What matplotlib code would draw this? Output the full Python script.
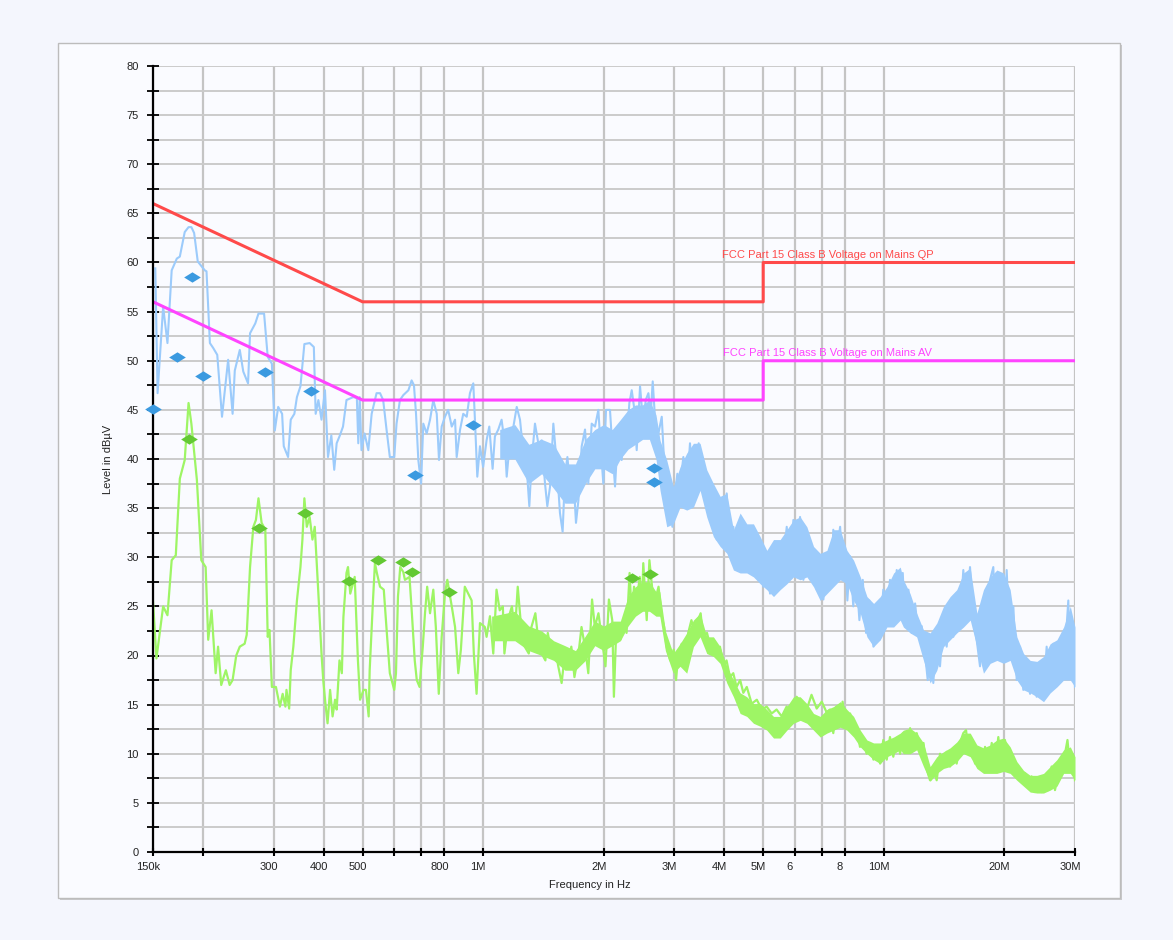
import numpy as np
import matplotlib
matplotlib.use('Agg')
import matplotlib.pyplot as plt
import matplotlib.transforms as mtransforms
from matplotlib.patches import Rectangle

plt.rcParams['font.family'] = ['Liberation Sans', 'DejaVu Sans']

# FCC Part 15 Class B limits (Hz, dBuV)
limit_f = [150e3, 500e3, 5e6, 5e6, 30e6]
qp_limit = [66, 56, 56, 60, 60]
av_limit = [56, 46, 46, 50, 50]

# peak (blue) scan, frequency in kHz
peak_f = [152, 154, 159, 163, 167, 172, 175, 180, 184, 187, 190, 194, 202, 204, 208, 212, 217, 223,
          231, 237, 240, 247, 252, 259, 262, 270, 275, 284, 290, 297, 302, 308, 315, 318, 326, 331,
          338, 343, 350, 358, 369, 378, 382, 388, 395, 403, 410, 418, 425, 431, 439, 447, 456, 474,
          484, 488, 492, 497, 506, 517, 527, 542, 553, 563, 574, 585, 600, 608, 620, 632, 651, 663,
          672, 680, 689, 700, 709, 723, 737, 751, 766, 776, 788, 803, 818, 835, 851, 859, 876, 892,
          910, 927, 945, 954, 967, 982, 1000, 1020, 1036, 1056, 1070, 1091, 1112, 1134, 1145, 1167,
          1190, 1213, 1236, 1260, 1284, 1304, 1322, 1347, 1373, 1400, 1427, 1446, 1469, 1497, 1526,
          1555, 1579, 1601, 1623, 1648, 1680, 1705, 1729, 1762, 1796, 1830, 1866, 1902, 1939, 1957,
          1995, 2026, 2073, 2113, 2134, 2175, 2217, 2247, 2282, 2317, 2349, 2380, 2417, 2464, 2512,
          2545, 2585, 2620, 2650, 2686, 2738, 2791, 2828, 2861, 2883, 2927, 2967, 3012, 3053, 3100,
          3160, 3221, 3283, 3347, 3412, 3451, 3511, 3579, 3648, 3698, 3755, 3828, 3902, 3978, 4054,
          4133, 4212, 4294, 4377, 4461, 4548, 4636, 4725, 4817, 4910, 5004, 5102, 5200, 5301, 5403,
          5508, 5616, 5724, 5834, 5947, 6062, 6179, 6299, 6421, 6544, 6671, 6800, 6931, 7066, 7202,
          7341, 7410, 7480, 7600, 7700, 7780, 7900, 8000, 8110, 8240, 8390, 8520, 8690, 8860, 9030,
          9200, 9420, 9600, 9750, 9970, 10170, 10360, 10600, 10770, 10980, 11150, 11300, 11520,
          11740, 11970, 12200, 12430, 12670, 12870, 13040, 13290, 13550, 13810, 14080, 14350, 14630,
          14910, 15200, 15490, 15790, 16100, 16410, 16730, 17050, 17380, 17720, 18060, 18410, 18760,
          19120, 19500, 19870, 20260, 20650, 21050, 21460, 21880, 22290, 22730, 23170, 23610, 24070,
          24540, 25010, 25490, 25980, 26490, 27000, 27520, 28050, 28590, 28870, 29150, 29600, 30000]
peak_db = [59.4, 46.7, 55.5, 51.8, 59.2, 60.4, 60.6, 63.1, 63.6, 63.6, 63.0, 60.1, 59.2, 59.1, 51.8,
           51.3, 50.6, 44.3, 50.1, 44.6, 49.0, 51.1, 48.9, 47.7, 52.8, 53.8, 54.8, 54.8, 50.4, 49.7,
           42.9, 45.3, 44.6, 41.3, 40.2, 44.0, 44.6, 46.3, 47.4, 51.7, 51.8, 51.4, 44.6, 46.0, 44.0,
           47.0, 40.2, 42.4, 38.9, 41.6, 42.4, 43.3, 46.0, 46.3, 46.2, 41.6, 46.3, 40.9, 42.6, 40.9,
           44.6, 46.7, 46.7, 46.0, 43.0, 40.2, 40.2, 43.6, 46.0, 46.5, 47.0, 48.0, 47.5, 44.6, 39.9,
           37.5, 43.6, 42.6, 44.0, 46.0, 44.6, 39.9, 43.3, 44.3, 45.0, 43.3, 44.0, 40.2, 43.0, 44.6,
           44.3, 46.7, 47.7, 44.0, 38.2, 41.3, 39.2, 41.9, 43.3, 39.0, 42.3, 43.0, 44.0, 41.3, 38.2,
           41.9, 43.3, 45.3, 44.0, 40.6, 39.2, 35.2, 39.9, 43.6, 41.6, 41.9, 37.5, 35.2, 37.2, 43.6,
           39.6, 34.5, 32.6, 38.5, 40.2, 37.2, 38.2, 33.5, 35.8, 41.3, 43.0, 37.5, 43.6, 43.3, 45.0,
           42.3, 37.5, 45.0, 45.0, 39.6, 37.2, 43.3, 39.9, 44.0, 41.6, 45.7, 47.0, 45.3, 40.9, 47.4,
           43.3, 46.0, 46.7, 44.6, 47.9, 44.0, 42.6, 44.3, 39.9, 37.2, 34.1, 35.8, 33.1, 36.5, 38.5,
           37.2, 40.2, 36.5, 41.6, 36.5, 39.9, 41.6, 38.9, 37.5, 35.8, 34.1, 36.8, 31.8, 34.5, 32.4,
           36.5, 30.4, 33.1, 29.0, 31.8, 29.7, 33.1, 29.0, 32.1, 28.0, 31.1, 27.0, 30.4, 26.3, 29.7,
           28.4, 31.1, 29.7, 33.1, 28.4, 33.8, 29.7, 34.1, 27.7, 32.4, 29.0, 30.4, 26.7, 29.7, 25.7,
           30.1, 28.0, 27.7, 32.8, 28.4, 31.8, 33.1, 28.0, 30.7, 25.6, 30.1, 25.0, 28.7, 23.6, 27.7,
           22.3, 25.6, 20.9, 25.0, 21.6, 26.7, 23.0, 27.7, 23.6, 28.7, 24.3, 28.4, 23.0, 26.7, 22.3,
           25.3, 21.9, 23.0, 20.2, 17.5, 21.6, 17.2, 22.6, 18.9, 23.6, 20.9, 25.0, 21.9, 26.3, 23.3,
           28.7, 24.3, 29.0, 23.6, 21.6, 18.9, 24.3, 19.5, 27.7, 29.0, 20.2, 28.4, 19.5, 28.7, 20.2,
           25.0, 17.5, 20.9, 16.5, 19.5, 16.1, 19.2, 15.8, 18.9, 15.5, 20.9, 16.8, 21.2, 17.5, 21.6,
           17.8, 22.9, 25.6, 18.2, 22.9, 16.8]

# dense part of the peak scan, read as upper / lower envelope (MHz)
peak_band_f = [1.10, 1.20, 1.30, 1.40, 1.50, 1.60, 1.70, 1.80, 1.90, 2.00, 2.10, 2.20, 2.30, 2.40,
               2.50, 2.60, 2.70, 2.764, 2.872, 2.984, 3.101, 3.222, 3.348, 3.479, 3.615, 3.756,
               3.903, 4.056, 4.214, 4.379, 4.550, 4.728, 4.913, 5.105, 5.305, 5.512, 5.728, 5.951,
               6.184, 6.426, 6.677, 6.938, 7.210, 7.491, 7.784, 8.089, 8.405, 8.734, 9.075, 9.430,
               9.799, 10.18, 10.58, 10.99, 11.19, 11.63, 12.08, 12.56, 13.05, 13.56, 14.09, 14.64,
               15.21, 15.81, 16.43, 17.07, 17.73, 18.43, 19.15, 19.90, 20.67, 21.48, 22.32, 23.19,
               24.10, 25.04, 26.02, 27.04, 28.10, 29.20, 30.0]
peak_band_hi = [43.0, 43.5, 41.5, 42.0, 41.5, 39.5, 39.5, 42.0, 43.0, 43.5, 43.0, 44.0, 45.0, 45.5,
                45.5, 46.0, 44.5, 41.9, 39.9, 37.2, 39.2, 40.6, 41.6, 41.6, 38.9, 37.5, 36.2, 36.5,
                32.8, 34.5, 33.4, 33.4, 32.1, 30.7, 31.8, 31.8, 32.8, 33.8, 34.1, 33.1, 31.1, 30.4,
                30.7, 32.8, 32.8, 30.7, 29.7, 28.0, 26.0, 25.3, 26.0, 27.0, 28.4, 29.0, 27.7, 26.3,
                24.3, 22.6, 22.3, 23.3, 25.0, 26.0, 26.7, 28.4, 28.9, 24.3, 26.7, 28.0, 28.7, 28.4,
                26.7, 21.9, 20.2, 19.5, 19.4, 19.9, 21.2, 21.6, 22.9, 25.0, 22.9]
peak_band_lo = [40.0, 40.0, 37.5, 38.5, 37.0, 35.5, 35.5, 37.5, 39.0, 39.0, 38.5, 40.0, 41.0, 41.5,
                42.0, 42.0, 40.0, 36.8, 33.1, 33.4, 35.1, 34.8, 35.1, 36.8, 34.1, 32.1, 31.1, 30.4,
                28.7, 28.4, 28.4, 28.0, 27.3, 26.7, 26.0, 26.7, 27.3, 28.0, 27.7, 28.0, 27.0, 25.6,
                26.3, 27.0, 27.7, 27.3, 25.6, 24.3, 21.9, 20.9, 21.6, 22.9, 22.9, 23.6, 22.9, 22.3,
                21.9, 19.5, 17.2, 18.5, 20.9, 21.6, 22.3, 22.9, 23.6, 20.9, 18.2, 19.2, 19.5, 19.2,
                19.5, 17.5, 16.5, 16.2, 15.8, 15.3, 16.2, 16.8, 17.5, 17.5, 16.8]

# average (green) scan, frequency in kHz
avg_f = [150, 153, 159, 163, 167, 171, 175, 180, 184, 187, 193, 198, 203, 206, 210, 215, 218, 222,
         228, 233, 237, 242, 247, 254, 257, 262, 267, 271, 275, 280, 286, 290, 293, 297, 304, 311,
         316, 321, 323, 328, 331, 336, 343, 350, 354, 358, 363, 369, 375, 380, 388, 395, 399, 404,
         409, 415, 421, 427, 431, 438, 444, 448, 456, 460, 466, 478, 487, 493, 503, 510, 518, 521,
         531, 537, 543, 553, 565, 575, 585, 600, 606, 613, 621, 632, 638, 655, 664, 675, 683, 694,
         707, 716, 725, 737, 751, 762, 775, 788, 803, 814, 835, 851, 867, 880, 900, 918, 936, 948,
         963, 982, 1010, 1020, 1040, 1060, 1080, 1100, 1120, 1130, 1160, 1180, 1200, 1220, 1250,
         1270, 1300, 1320, 1350, 1370, 1400, 1430, 1450, 1480, 1510, 1540, 1570, 1600, 1630, 1660,
         1690, 1730, 1760, 1800, 1830, 1870, 1900, 1940, 1980, 2020, 2060, 2100, 2120, 2150, 2200,
         2240, 2280, 2320, 2350, 2380, 2420, 2460, 2490, 2510, 2560, 2600, 2650, 2690, 2740, 2790,
         2830, 2870, 2930, 2990, 3030, 3070, 3130, 3190, 3250, 3310, 3370, 3440, 3490, 3540, 3620,
         3690, 3760, 3830, 3900, 3980, 4050, 4130, 4210, 4290, 4380, 4460, 4550, 4680, 4820, 4960,
         5100, 5250, 5400, 5560, 5720, 5890, 6060, 6240, 6420, 6600, 6800, 7000, 7200, 7340, 7480,
         7620, 7780, 7890, 8050, 8240, 8390, 8550, 8720, 8890, 9060, 9240, 9420, 9600, 9790, 9970,
         10170, 10360, 10560, 10770, 10980, 11190, 11410, 11630, 11850, 12080, 12320, 12560, 12800,
         13040, 13290, 13550, 13810, 14080, 14350, 14630, 14910, 15200, 15490, 15790, 16040, 16250,
         16570, 16890, 17220, 17550, 17890, 18240, 18590, 18940, 19310, 19680, 20060, 20450, 20840,
         21240, 21650, 22070, 22500, 22930, 23370, 23830, 24290, 24760, 25240, 25730, 26230, 26740,
         27260, 27780, 28320, 28730, 29150, 29600, 30000]
avg_db = [25.5, 19.7, 25.0, 24.1, 29.7, 30.2, 38.0, 39.9, 45.7, 43.6, 37.9, 29.7, 29.0, 21.6, 24.6,
          18.2, 20.9, 17.0, 18.5, 17.0, 17.5, 20.0, 20.9, 21.2, 22.1, 29.0, 33.1, 33.8, 36.0, 33.5,
          32.8, 21.9, 22.6, 16.8, 16.8, 14.8, 16.1, 14.8, 16.5, 14.6, 18.5, 20.9, 25.6, 29.0, 31.8,
          36.0, 33.1, 34.1, 31.8, 33.1, 26.3, 20.2, 17.5, 15.1, 13.1, 16.5, 13.8, 15.5, 14.5, 19.5,
          18.2, 23.9, 28.4, 29.0, 26.3, 28.0, 19.5, 15.5, 16.5, 16.5, 13.8, 18.5, 25.6, 29.4, 28.4,
          27.0, 26.7, 22.3, 18.2, 16.5, 18.2, 26.0, 29.0, 28.5, 27.7, 28.0, 24.3, 19.5, 17.5, 16.8,
          20.9, 24.3, 27.0, 24.3, 26.7, 22.9, 16.1, 21.9, 26.3, 27.7, 25.0, 22.9, 18.2, 20.6, 27.0,
          26.3, 25.6, 20.2, 16.1, 23.3, 22.9, 21.9, 24.0, 20.2, 26.7, 24.6, 25.0, 20.2, 24.0, 25.0,
          22.3, 27.0, 21.9, 20.9, 20.2, 22.9, 24.3, 21.9, 20.2, 19.5, 22.3, 20.2, 20.9, 18.9, 17.2,
          20.2, 19.2, 20.9, 17.8, 20.2, 22.9, 20.6, 18.2, 25.7, 22.9, 24.3, 21.6, 18.9, 25.7, 23.6,
          15.8, 22.9, 21.6, 23.6, 22.3, 28.4, 24.0, 27.0, 25.7, 28.0, 25.0, 29.4, 23.6, 29.7, 26.3,
          25.7, 27.0, 24.0, 22.9, 20.9, 19.5, 20.6, 17.5, 20.2, 21.2, 19.5, 22.3, 23.6, 22.3, 23.6,
          24.3, 21.9, 22.3, 20.9, 21.6, 20.2, 20.9, 18.9, 19.5, 17.8, 18.2, 16.8, 17.5, 16.2, 16.8,
          15.1, 15.5, 14.5, 14.8, 14.1, 14.5, 13.8, 14.8, 14.1, 15.8, 15.1, 14.5, 16.0, 14.6, 15.3,
          14.2, 14.5, 12.1, 14.8, 12.8, 15.3, 13.1, 14.1, 12.1, 12.8, 10.7, 11.4, 10.0, 11.1, 9.4,
          10.7, 9.0, 11.4, 9.4, 11.7, 9.7, 11.6, 10.0, 12.1, 10.2, 12.6, 11.1, 12.1, 10.7, 11.1, 8.4,
          7.3, 8.4, 7.3, 10.0, 8.7, 10.2, 8.7, 10.4, 9.0, 11.1, 12.1, 12.4, 10.4, 11.1, 9.0, 10.4,
          8.4, 10.7, 8.4, 11.1, 8.7, 11.7, 8.4, 11.4, 8.7, 9.7, 8.0, 8.7, 7.3, 8.0, 6.6, 7.7, 6.1,
          7.3, 6.1, 7.3, 6.3, 8.7, 6.3, 8.0, 9.0, 10.0, 11.4, 8.7, 9.7, 7.3]

# dense part of the average scan, upper / lower envelope (MHz)
avg_band_f = [1.05, 1.20, 1.30, 1.40, 1.50, 1.60, 1.70, 1.80, 1.90, 2.00, 2.10, 2.20, 2.30, 2.40,
              2.50, 2.60, 2.70, 2.76, 2.85, 2.98, 3.101, 3.222, 3.348, 3.479, 3.615, 3.756, 3.903,
              4.056, 4.214, 4.379, 4.550, 4.728, 4.913, 5.105, 5.305, 5.512, 5.728, 5.951, 6.184,
              6.426, 6.677, 6.938, 7.210, 7.491, 7.784, 8.089, 8.405, 8.734, 9.075, 9.430, 9.799,
              10.18, 10.58, 10.99, 11.19, 11.63, 12.08, 12.56, 13.05, 13.56, 14.09, 14.64, 15.21,
              15.81, 16.43, 17.07, 17.73, 18.43, 19.15, 19.90, 20.67, 21.48, 22.32, 23.19, 24.10,
              25.04, 26.02, 27.04, 28.10, 29.20, 30.0]
avg_band_hi = [24.0, 24.5, 23.0, 22.5, 21.5, 21.0, 20.5, 22.0, 23.5, 23.0, 23.5, 23.5, 26.0, 27.0,
               27.5, 27.5, 26.5, 26.5, 22.5, 20.2, 21.2, 22.3, 23.6, 24.3, 21.9, 21.9, 20.9, 18.9,
               17.5, 16.2, 15.8, 15.1, 15.1, 14.5, 13.8, 13.8, 14.8, 15.8, 15.8, 15.1, 14.1, 13.8,
               14.5, 14.8, 15.3, 14.5, 13.8, 12.4, 11.4, 11.1, 11.1, 11.4, 11.7, 12.1, 12.4, 12.6,
               12.1, 11.1, 8.7, 9.7, 10.2, 10.6, 11.2, 12.1, 12.1, 10.9, 10.6, 10.9, 11.4, 11.6,
               10.7, 9.2, 8.3, 7.8, 7.8, 8.0, 8.7, 9.4, 10.4, 10.7, 9.7]
avg_band_lo = [21.5, 21.5, 20.5, 20.0, 19.5, 18.5, 18.5, 19.5, 21.0, 20.5, 21.0, 21.5, 23.0, 24.0,
               24.5, 24.5, 24.0, 24.0, 20.5, 18.2, 18.9, 18.2, 20.9, 21.9, 20.2, 19.9, 19.2, 17.2,
               15.8, 14.1, 13.8, 13.1, 12.8, 12.4, 11.6, 11.6, 12.4, 13.1, 13.4, 13.1, 12.4, 11.7,
               12.1, 12.4, 12.7, 12.4, 11.7, 10.7, 10.0, 9.4, 9.0, 9.7, 10.0, 10.4, 10.0, 10.0,
               10.4, 8.7, 7.2, 8.0, 8.5, 8.7, 9.2, 10.0, 9.7, 8.5, 8.0, 8.0, 8.0, 8.2, 8.0, 7.3,
               6.7, 6.1, 6.0, 6.0, 6.3, 6.7, 8.0, 8.0, 7.3]

# final measurement markers, frequency in kHz
qp_mark_f = [150, 172, 188, 200, 285, 371, 677, 945, 2675, 2675]
qp_mark_db = [45.1, 50.4, 58.5, 48.4, 48.9, 46.9, 38.4, 43.5, 39.1, 37.7]
av_mark_f = [184, 276, 359, 463, 545, 632, 663, 823, 2357, 2609]
av_mark_db = [42.0, 33.0, 34.5, 27.6, 29.7, 29.5, 28.5, 26.5, 27.9, 28.3]

x_ticks = [150e3, 200e3, 300e3, 400e3, 500e3, 600e3, 700e3, 800e3, 1e6, 2e6, 3e6, 4e6, 5e6,
           6e6, 7e6, 8e6, 10e6, 20e6, 30e6]
x_labels = ['150k', '', '300', '400', '500', '', '', '800', '1M', '2M', '3M', '4M', '5M',
            '6', '', '8', '10M', '20M', '30M']

blue = '#9ccbfb'
green = '#9ef565'

W, H = 1173, 940
fig = plt.figure(figsize=(W / 100, H / 100), dpi=100, facecolor='#f4f6fd')

# panel with a small shadow
fig.patches.append(Rectangle((60 / W, 1 - 900 / H), 1062 / W, 855 / H, transform=fig.transFigure,
                             facecolor='#c9c9cc', edgecolor='none', zorder=-2))
fig.patches.append(Rectangle((58 / W, 1 - 898 / H), 1062 / W, 855 / H, transform=fig.transFigure,
                             facecolor='#fafbff', edgecolor='#bcbcbc', lw=1, zorder=-1))

ax = fig.add_axes([153 / W, 1 - 852 / H, 922 / W, 786 / H])
ax.set_facecolor('none')
ax.set_xscale('log')
ax.set_xlim(150e3, 30e6)
ax.set_ylim(0, 80)

ax.set_xticks(x_ticks)
ax.set_xticklabels(x_labels)
ax.xaxis.set_minor_locator(matplotlib.ticker.NullLocator())
ax.set_yticks(np.arange(0, 81, 5))
ax.set_yticks(np.arange(2.5, 80, 5), minor=True)

ax.set_axisbelow(True)
ax.grid(which='both', axis='y', color='#cbcbcb', lw=1.4)
ax.grid(which='major', axis='x', color='#c4c4c4', lw=1.6)

for s in ['top', 'right']:
    ax.spines[s].set_visible(False)
for s in ['left', 'bottom']:
    ax.spines[s].set_linewidth(1.6)
    ax.spines[s].set_color('black')
    ax.spines[s].set_zorder(5)

ax.tick_params(axis='x', which='major', direction='inout', length=6, width=1.5,
               pad=4.5, labelsize=8, labelcolor='#222222')
ax.tick_params(axis='y', which='both', direction='inout', length=8.5, width=1.3,
               pad=6, labelsize=8, labelcolor='#222222')

offset = mtransforms.ScaledTranslation(-5 / 100, 0, fig.dpi_scale_trans)
for lbl in ax.get_xticklabels():
    lbl.set_transform(lbl.get_transform() + offset)

# traces
ax.fill_between(np.array(peak_band_f) * 1e6, peak_band_lo, peak_band_hi, color=blue, lw=0, zorder=2)
ax.plot(np.array(peak_f) * 1e3, peak_db, color=blue, lw=1.5, zorder=2)
ax.fill_between(np.array(avg_band_f) * 1e6, avg_band_lo, avg_band_hi, color=green, lw=0, zorder=2)
ax.plot(np.array(avg_f) * 1e3, avg_db, color=green, lw=1.6, zorder=2)

# limits
ax.plot(limit_f, qp_limit, color='#ff4a4a', lw=2.2, zorder=3)
ax.plot(limit_f, av_limit, color='#ff44ff', lw=2.2, zorder=3)
ax.text(3.95e6, 60.3, 'FCC Part 15 Class B Voltage on Mains QP', color='#ff4a4a',
        fontsize=8, ha='left', va='bottom')
ax.text(3.97e6, 50.3, 'FCC Part 15 Class B Voltage on Mains AV', color='#ff44ff',
        fontsize=8, ha='left', va='bottom')

# markers
diamond = [(-1, 0), (0, 0.62), (1, 0), (0, -0.62), (-1, 0)]
ax.plot(np.array(qp_mark_f) * 1e3, qp_mark_db, ls='none', marker=diamond, ms=12,
        color='#3b9ae0', mec='none', zorder=6, clip_on=False)
ax.plot(np.array(av_mark_f) * 1e3, av_mark_db, ls='none', marker=diamond, ms=12,
        color='#63c933', mec='none', zorder=6, clip_on=False)

ax.set_xlabel('Frequency in Hz', fontsize=8, color='#222222')
ax.xaxis.set_label_coords(0.474, -0.036)
ax.set_ylabel('Level in dBµV', fontsize=8, color='#222222')
ax.yaxis.set_label_coords(-0.043, 0.5)

fig.savefig('out.png', dpi=100, facecolor=fig.get_facecolor())
